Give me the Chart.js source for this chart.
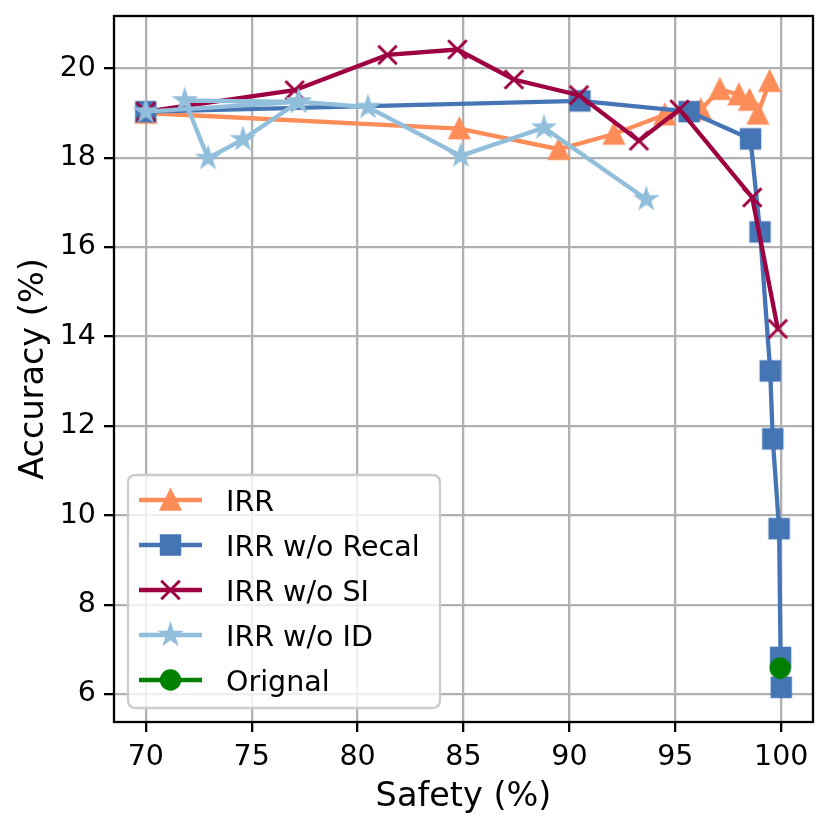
<!DOCTYPE html>
<html><head><meta charset="utf-8">
<script src="https://cdn.jsdelivr.net/npm/chart.js@4.4.1/dist/chart.umd.min.js"></script>
<style>html,body{margin:0;padding:0;background:#fff;} canvas{display:block;}</style>
</head><body>
<canvas id="c" width="831" height="830"></canvas>
<script>
// ---- data ----
const seriesNames = ['IRR', 'IRR w/o Recal', 'IRR w/o SI', 'IRR w/o ID', 'Orignal'];
const irrX    = [70, 84.8, 89.5, 92.1, 94.5, 96.2, 97.1, 98.0, 98.5, 98.9, 99.45];
const irrY    = [19.0, 18.65, 18.19, 18.53, 18.96, 19.07, 19.53, 19.41, 19.29, 18.98, 19.71];
const recalX  = [70, 90.5, 95.65, 98.55, 99.0, 99.48, 99.6, 99.9, 99.97, 100.0];
const recalY  = [19.03, 19.27, 19.03, 18.42, 16.34, 13.23, 11.71, 9.70, 6.82, 6.15];
const siX     = [70, 77.03, 81.41, 84.71, 87.38, 90.45, 93.28, 95.2, 98.63, 99.84];
const siY     = [19.03, 19.51, 20.30, 20.42, 19.75, 19.40, 18.38, 19.08, 17.11, 14.17];
const idX     = [70, 77.2, 71.84, 72.94, 74.59, 77.23, 80.49, 84.87, 88.8, 93.63];
const idY     = [19.03, 19.25, 19.28, 17.99, 18.41, 19.25, 19.13, 18.04, 18.67, 17.07];
const origX   = [99.95];
const origY   = [6.58];
const xTicks = [70, 75, 80, 85, 90, 95, 100];
const yTicks = [6, 8, 10, 12, 14, 16, 18, 20];

const seriesX = [irrX, recalX, siX, idX, origX];
const seriesY = [irrY, recalY, siY, idY, origY];
const colors  = ['#fc8d59', '#4575b4', '#9e0142', '#91bfdb', '#008000'];
const markers = ['triangle', 'square', 'x', 'star', 'circle'];

// ---- style ----
const FONT = 'DejaVu Sans';
const MS = 18.5, MEW = 2.9, LW = 4.3;

function drawMarker(ctx, type, x, y, color) {
  const h = MS / 2;
  ctx.save();
  ctx.fillStyle = color; ctx.strokeStyle = color;
  ctx.lineWidth = MEW; ctx.lineJoin = 'miter'; ctx.lineCap = 'butt';
  ctx.beginPath();
  if (type === 'square') { ctx.rect(x - h, y - h, MS, MS); ctx.fill(); ctx.stroke(); }
  else if (type === 'triangle') { ctx.moveTo(x, y - h); ctx.lineTo(x + h, y + h); ctx.lineTo(x - h, y + h); ctx.closePath(); ctx.fill(); ctx.stroke(); }
  else if (type === 'x') { ctx.moveTo(x - h, y - h); ctx.lineTo(x + h, y + h); ctx.moveTo(x + h, y - h); ctx.lineTo(x - h, y + h); ctx.stroke(); }
  else if (type === 'star') {
    for (let i = 0; i < 10; i++) {
      const r = i % 2 ? h * 0.381966 : h;
      const a = -Math.PI / 2 + i * Math.PI / 5;
      const px = x + r * Math.cos(a), py = y + r * Math.sin(a);
      if (i) ctx.lineTo(px, py); else ctx.moveTo(px, py);
    }
    ctx.closePath(); ctx.fill(); ctx.stroke();
  }
  else if (type === 'circle') { ctx.arc(x, y, h, 0, Math.PI * 2); ctx.fill(); ctx.stroke(); }
  ctx.restore();
}

function markerCanvas(type, color) {
  const size = Math.ceil(MS + 10);
  const c = document.createElement('canvas');
  c.width = size; c.height = size;
  drawMarker(c.getContext('2d'), type, size / 2, size / 2, color);
  return c;
}

const datasets = seriesNames.map((name, i) => ({
  label: name,
  data: seriesX[i].map((x, k) => ({ x: x, y: seriesY[i][k] })),
  showLine: true,
  borderColor: colors[i],
  backgroundColor: colors[i],
  borderWidth: LW,
  tension: 0,
  pointStyle: markerCanvas(markers[i], colors[i]),
  pointRadius: 10,
  pointHoverRadius: 10,
  order: seriesNames.length - i,
  clip: false
}));

const framePlugin = {
  id: 'frameAndLegend',
  afterDatasetsDraw(chart) {
    const { ctx, chartArea: a } = chart;
    ctx.save();
    ctx.strokeStyle = '#000'; ctx.lineWidth = 2.3;
    ctx.strokeRect(a.left, a.top, a.right - a.left, a.bottom - a.top);
    ctx.restore();
  },
  afterDraw(chart) {
    const ctx = chart.ctx;
    const bx = 128, by = 475, bw = 312, bh = 233, r = 8;
    ctx.save();
    ctx.beginPath();
    ctx.moveTo(bx + r, by); ctx.lineTo(bx + bw - r, by); ctx.quadraticCurveTo(bx + bw, by, bx + bw, by + r);
    ctx.lineTo(bx + bw, by + bh - r); ctx.quadraticCurveTo(bx + bw, by + bh, bx + bw - r, by + bh);
    ctx.lineTo(bx + r, by + bh); ctx.quadraticCurveTo(bx, by + bh, bx, by + bh - r);
    ctx.lineTo(bx, by + r); ctx.quadraticCurveTo(bx, by, bx + r, by);
    ctx.closePath();
    ctx.fillStyle = 'rgba(255,255,255,0.8)'; ctx.fill();
    ctx.strokeStyle = '#cccccc'; ctx.lineWidth = 2.3; ctx.stroke();
    seriesNames.forEach((name, i) => {
      const y = 500 + 45 * i;
      ctx.beginPath(); ctx.strokeStyle = colors[i]; ctx.lineWidth = LW; ctx.lineCap = 'butt';
      ctx.moveTo(139, y); ctx.lineTo(202, y); ctx.stroke();
      drawMarker(ctx, markers[i], 170.5, y, colors[i]);
      ctx.fillStyle = '#000'; ctx.font = '28.5px "' + FONT + '"';
      ctx.textAlign = 'left'; ctx.textBaseline = 'alphabetic';
      ctx.fillText(name, 226, y + 10.5);
    });
    ctx.restore();
  }
};

const tickFont = { family: FONT, size: 28.5 };
const titleFont = { family: FONT, size: 33.5 };

new Chart(document.getElementById('c'), {
  type: 'scatter',
  data: { datasets: datasets },
  options: {
    responsive: false,
    animation: false,
    events: [],
    layout: { padding: { left: 0, right: 18, top: 16, bottom: 0 } },
    plugins: { legend: { display: false }, tooltip: { enabled: false } },
    scales: {
      x: {
        type: 'linear', position: 'bottom', min: 68.5, max: 101.5,
        afterBuildTicks: s => { s.ticks = xTicks.map(v => ({ value: v })); },
        afterFit: s => { s.height = 108; s.paddingLeft = 0; s.paddingRight = 0; },
        ticks: { callback: v => String(v), font: tickFont, color: '#000', padding: 8, maxRotation: 0, autoSkip: false },
        grid: { color: '#b0b0b0', lineWidth: 2.3, tickColor: '#000', tickLength: 10, tickWidth: 2.3, drawTicks: true },
        border: { display: false },
        title: { display: true, text: 'Safety (%)', font: titleFont, color: '#000', padding: { top: 0, bottom: 13 } }
      },
      y: {
        type: 'linear', position: 'left', min: 5.375, max: 21.17,
        afterBuildTicks: s => { s.ticks = yTicks.map(v => ({ value: v })); },
        afterFit: s => { s.width = 114; s.paddingTop = 0; s.paddingBottom = 0; },
        ticks: { callback: v => String(v), font: tickFont, color: '#000', padding: 8, autoSkip: false },
        grid: { color: '#b0b0b0', lineWidth: 2.3, tickColor: '#000', tickLength: 10, tickWidth: 2.3, drawTicks: true },
        border: { display: false },
        title: { display: true, text: 'Accuracy (%)', font: titleFont, color: '#000', padding: { top: 14, bottom: 0 } }
      }
    }
  },
  plugins: [framePlugin]
});
</script>
</body></html>
